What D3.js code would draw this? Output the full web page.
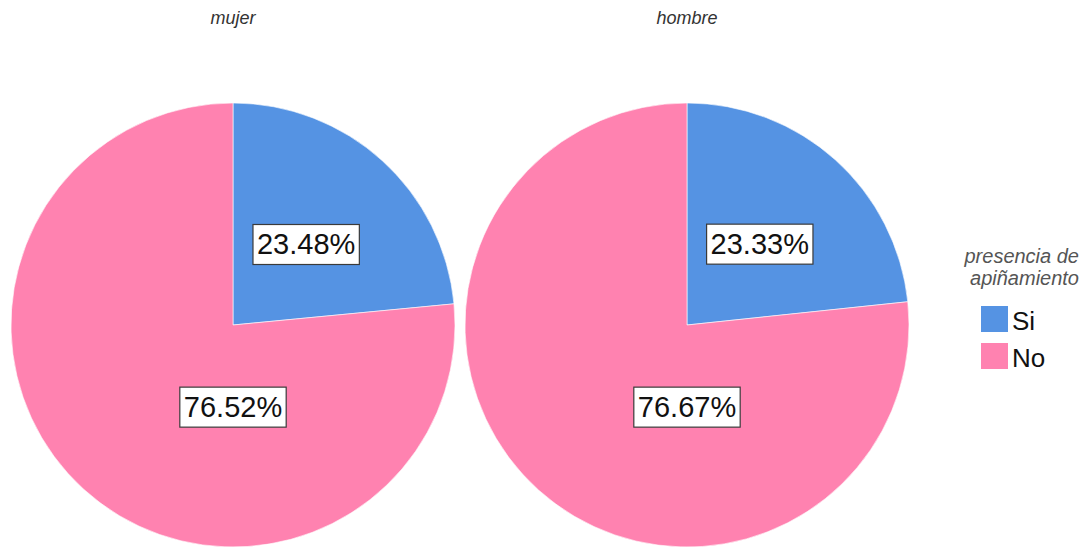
<!DOCTYPE html>
<html>
<head>
<meta charset="utf-8">
<script src="https://cdn.jsdelivr.net/npm/d3@7"></script>
<style>
  html, body { margin: 0; padding: 0; background: #fff; }
  svg { display: block; font-family: "Liberation Sans", Arial, sans-serif; }
</style>
</head>
<body>
<svg id="chart" width="1085" height="550"></svg>
<script>
// Panels (one pie per sex) and the two categories of the legend
const panels = ["mujer", "hombre"];
const categories = ["Si", "No"];
const siPercent = [23.48, 23.33];
const noPercent = [76.52, 76.67];
const legendTitle = ["presencia de", "apiñamiento"];

const colors = d3.scaleOrdinal()
  .domain(categories)
  .range(["#5593e3", "#ff82b0"]);

const svg = d3.select("#chart");

// Pie centres spread across the plot area
const cx = d3.scalePoint().domain(panels).range([233, 687]);
const cy = 325;
const radius = 222;

const pie = d3.pie().sort(null).value(d => d.value);
const arc = d3.arc().innerRadius(0).outerRadius(radius);

// Label anchors: "Si" near its slice centroid, "No" below the centre
const labelPos = {
  Si: d => { const c = arc.centroid(d); return [c[0] * 0.98, c[1] * 0.98]; },
  No: () => [0, radius * 0.37]
};

panels.forEach((p, i) => {
  const data = [
    { key: "Si", value: siPercent[i] },
    { key: "No", value: noPercent[i] }
  ];
  const g = svg.append("g").attr("transform", `translate(${cx(p)},${cy})`);

  g.selectAll("path")
    .data(pie(data))
    .join("path")
    .attr("d", arc)
    .attr("fill", d => colors(d.data.key))
    .attr("stroke", "#ffffff")
    .attr("stroke-width", 0.6);

  // Panel title
  svg.append("text")
    .attr("x", cx(p))
    .attr("y", 24)
    .attr("text-anchor", "middle")
    .attr("font-style", "italic")
    .attr("font-size", 18)
    .attr("fill", "#333")
    .text(p);

  // Value labels in boxes
  pie(data).forEach(d => {
    const [lx, ly] = labelPos[d.data.key](d);
    const lg = g.append("g").attr("transform", `translate(${lx},${ly})`);
    const t = lg.append("text")
      .attr("text-anchor", "middle")
      .attr("dominant-baseline", "central")
      .attr("font-size", 29)
      .attr("fill", "#111")
      .text(d.data.value.toFixed(2) + "%");
    const bb = t.node().getBBox();
    lg.insert("rect", "text")
      .attr("x", bb.x - 4)
      .attr("y", -20)
      .attr("width", bb.width + 8)
      .attr("height", 40)
      .attr("fill", "#fff")
      .attr("stroke", "#3a3a3a")
      .attr("stroke-width", 1.2);
  });
});

// Legend
const legend = svg.append("g");
legend.selectAll("text.title")
  .data(legendTitle)
  .join("text")
  .attr("class", "title")
  .attr("x", 1079)
  .attr("y", (d, i) => 263 + i * 22)
  .attr("text-anchor", "end")
  .attr("font-style", "italic")
  .attr("font-size", 20)
  .attr("fill", "#555")
  .text(d => d);

const item = legend.selectAll("g.item")
  .data(categories)
  .join("g")
  .attr("class", "item")
  .attr("transform", (d, i) => `translate(981,${306 + i * 37})`);
item.append("rect")
  .attr("width", 27)
  .attr("height", 26)
  .attr("fill", d => colors(d));
item.append("text")
  .attr("x", 31)
  .attr("y", 24)
  .attr("font-size", 26)
  .attr("fill", "#111")
  .text(d => d);
</script>
</body>
</html>
